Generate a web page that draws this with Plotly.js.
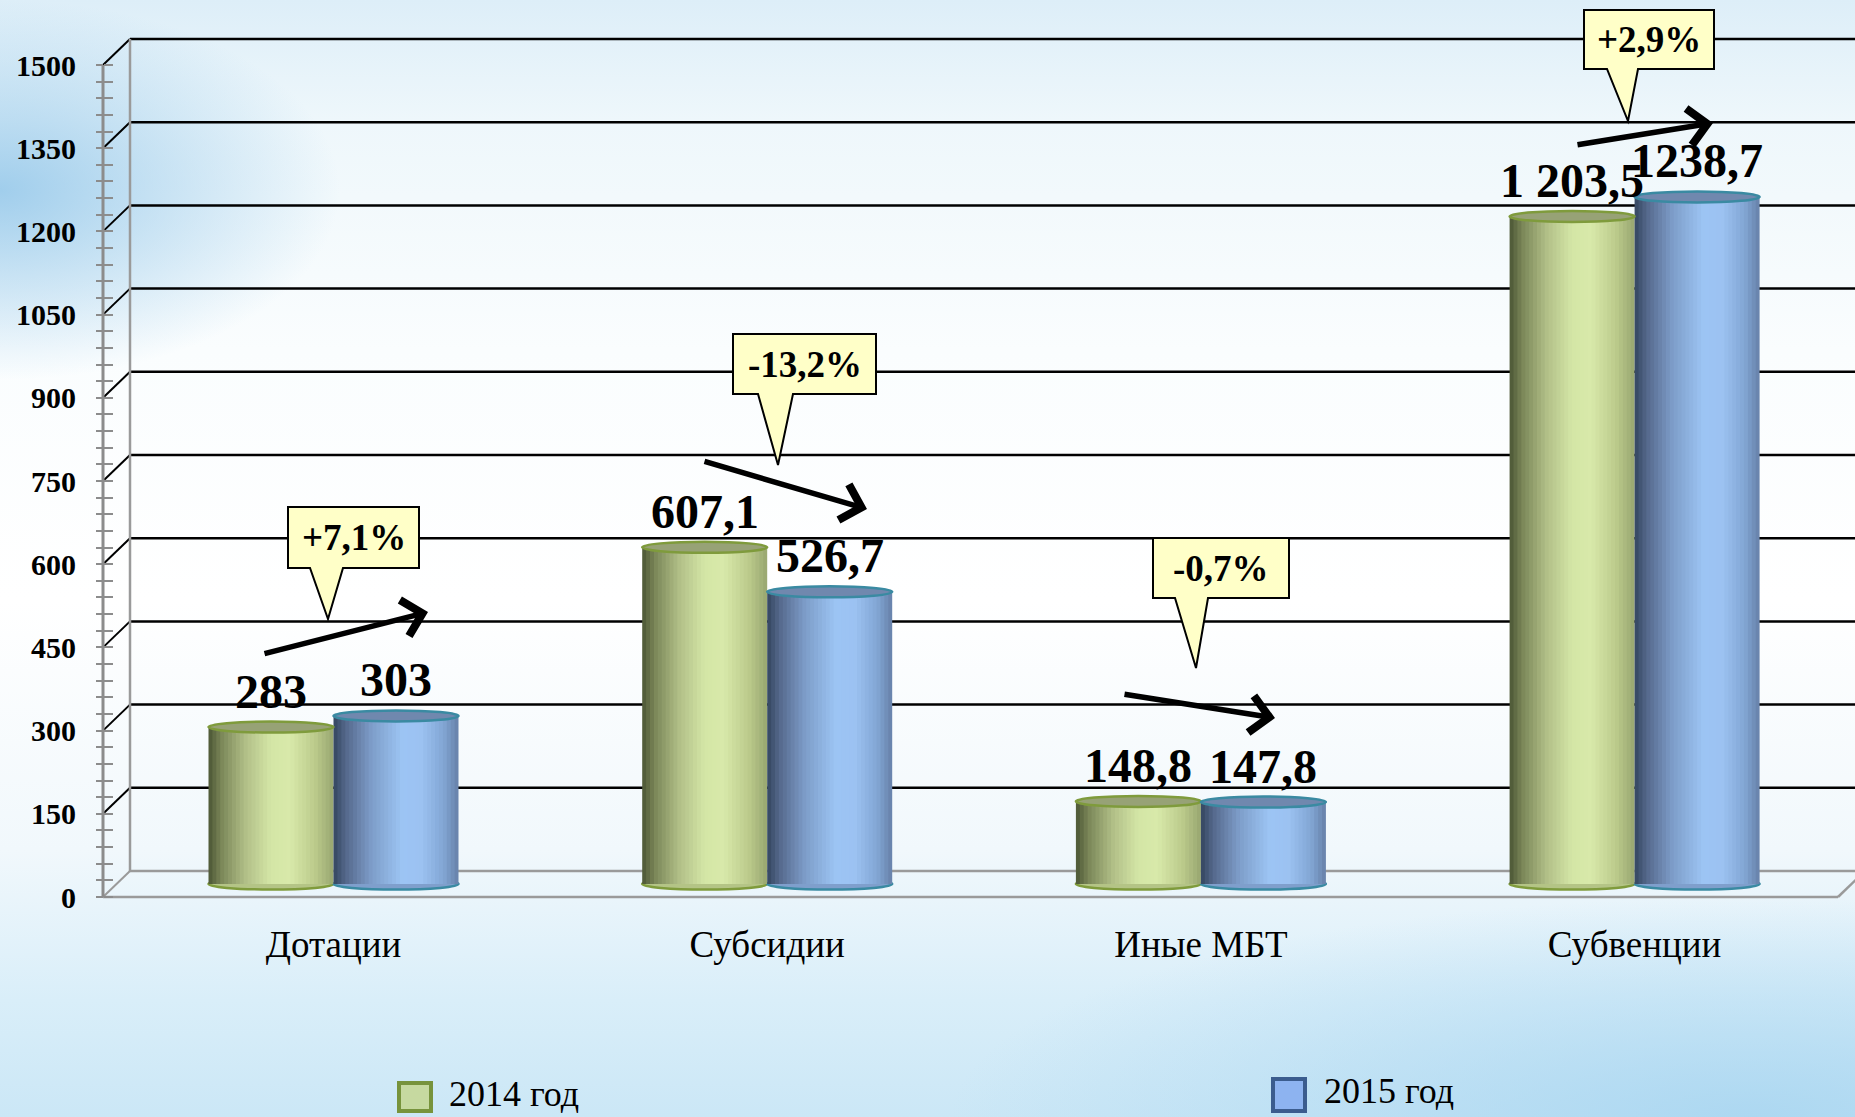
<!DOCTYPE html>
<html><head><meta charset="utf-8">
<script src="https://cdn.plot.ly/plotly-3.0.1.min.js"></script>
<style>
html,body{margin:0;padding:0;width:1855px;height:1117px;overflow:hidden;}
body{background:
 radial-gradient(ellipse 340px 190px at 0px 190px, rgba(140,195,232,0.8), rgba(140,195,232,0) 100%),
 radial-gradient(ellipse 800px 220px at 1750px 1117px, rgba(165,212,240,0.8), rgba(165,212,240,0) 100%),
 linear-gradient(to bottom, #ddeef8 0px, #eef7fb 120px, #fafdfe 350px, #ffffff 600px, #f1f8fc 850px, #d9eef9 1000px, #cbe7f6 1117px);}
#chart{width:1855px;height:1117px;}
</style></head><body><div id="chart"></div>
<script>
// ---- data ----
const categories = ['Дотации', 'Субсидии', 'Иные МБТ', 'Субвенции'];
const seriesNames = ['2014 год', '2015 год'];
const values2014 = [283, 607.1, 148.8, 1203.5];
const values2015 = [303, 526.7, 147.8, 1238.7];
const labels2014 = ['283', '607,1', '148,8', '1 203,5'];
const labels2015 = ['303', '526,7', '147,8', '1238,7'];
const changes = ['+7,1%', '-13,2%', '-0,7%', '+2,9%'];
const yTicks = [0, 150, 300, 450, 600, 750, 900, 1050, 1200, 1350, 1500];
const yMinorStep = 30;

// ---- layout geometry (pixels) ----
const W = 1855, H = 1117;
const Y0PX = 897, YTOPPX = 65;
const yTop = yTicks[yTicks.length - 1];
const K = (Y0PX - YTOPPX) / yTop;
const yMin = -(H - Y0PX) / K, yMax = Y0PX / K;
const S = 433.7, C0PX = 333.5;
const xMin = -C0PX / S, xMax = xMin + W / S;
const X = px => xMin + px / S;
const Y = py => (Y0PX - py) / K;
const DEPTH = 26 / K;
const BASE = 13 / K;
const AXPX = 103, WALLPX = 130;
const BW = 125 / S;
const EH = 5.5 / K;

const minorTicks = [];
for (let v = yMinorStep; v < yTop; v += yMinorStep) if (v % 150 !== 0) minorTicks.push(v);

function hex2rgb(h) { return [1, 3, 5].map(i => parseInt(h.substr(i, 2), 16)); }
function grad(stops, t) {
  for (let i = 0; i < stops.length - 1; i++) {
    const [t0, c0] = stops[i], [t1, c1] = stops[i + 1];
    if (t >= t0 && t <= t1) {
      const f = (t - t0) / (t1 - t0), a = hex2rgb(c0), b = hex2rgb(c1);
      return 'rgb(' + a.map((v, k) => Math.round(v + (b[k] - v) * f)).join(',') + ')';
    }
  }
  return stops[stops.length - 1][1];
}
const greenStops = [[0, '#4a5535'], [0.1, '#7a8658'], [0.3, '#b2c088'], [0.5, '#d4e6a6'], [0.65, '#d8e9aa'], [0.85, '#bccb8c'], [1, '#98a670']];
const blueStops = [[0, '#34465f'], [0.1, '#55698c'], [0.3, '#7d9cc8'], [0.55, '#9cc4f4'], [0.7, '#9cc2f2'], [0.88, '#82a6d4'], [1, '#6680a8']];

const series = [
  {vals: values2014, labels: labels2014, name: seriesNames[0], stops: greenStops, start: -BW, cap: '#97a276', edge: '#7f9b3c', bottom: '#b4c486', legFill: '#c6d9a0', legEdge: '#77933c'},
  {vals: values2015, labels: labels2015, name: seriesNames[1], stops: blueStops, start: 0, cap: '#7088ae', edge: '#3a8aa2', bottom: '#7f9fcc', legFill: '#8db3f0', legEdge: '#3b5c8e'}
];

const N = 32;
const traces = [];
series.forEach(s => {
  for (let j = 0; j < N; j++) {
    const t = (j + 0.5) / N;
    const sw = BW / N;
    traces.push({type: 'bar', x: categories, y: s.vals, base: BASE,
      offset: s.start + j * sw, width: j === N - 1 ? sw : sw * 1.8,
      marker: {color: grad(s.stops, t), line: {width: 0}},
      name: s.name, showlegend: false, hoverinfo: 'skip', cliponaxis: false});
  }
});
traces.push({type: 'scatter', x: [categories[0]], y: [0], yaxis: 'y2', mode: 'none', showlegend: false, hoverinfo: 'skip'});

const shapes = [];
const annotations = [];
const line = (x0, y0, x1, y1, color, width, layer) => ({type: 'line', xref: 'x', yref: 'y', x0, y0, x1, y1, line: {color, width}, layer: layer || 'below'});

yTicks.forEach(v => {
  const c = v === 0 ? '#9a9a9a' : '#000000';
  shapes.push(line(X(WALLPX), v + DEPTH, xMax, v + DEPTH, c, 2.5));
  shapes.push(line(X(AXPX), v, X(WALLPX), v + DEPTH, c, 2));
});
shapes.push(line(X(WALLPX), DEPTH, X(WALLPX), yTop + DEPTH, '#9a9a9a', 2.5));
shapes.push(line(X(AXPX), 0, X(1838), 0, '#9a9a9a', 2.5));
shapes.push(line(X(1838), 0, X(1838 + 27), DEPTH, '#9a9a9a', 2.5));
shapes.push(line(X(AXPX), 0, X(AXPX), yTop, '#8c8c8c', 3));

series.forEach(s => s.vals.forEach((v, i) => {
  const x0 = i + s.start, x1 = x0 + BW;
  shapes.push({type: 'circle', xref: 'x', yref: 'y', x0, x1, y0: BASE - EH, y1: BASE + EH, fillcolor: s.bottom, line: {color: s.edge, width: 2.5}, layer: 'below'});
  shapes.push({type: 'circle', xref: 'x', yref: 'y', x0, x1, y0: BASE + v - EH, y1: BASE + v + EH, fillcolor: s.cap, line: {color: s.edge, width: 2.5}, layer: 'above'});
  annotations.push({x: x0 + BW / 2, y: BASE + v, xref: 'x', yref: 'y', yanchor: 'middle', yshift: 36,
    text: s.labels[i], showarrow: false, font: {family: 'Liberation Serif', size: 48, weight: 'bold', color: '#000'}});
}));

// callouts (box, pointer base, tip) in px
const callouts = [
  {box: [288, 507, 419, 568], base: [310, 343], tip: [328, 619]},
  {box: [733, 334, 876, 394], base: [758, 793], tip: [778, 465]},
  {box: [1153, 538, 1289, 598], base: [1175, 1208], tip: [1196, 668]},
  {box: [1584, 10, 1714, 69], base: [1607, 1638], tip: [1628, 121]}
];
callouts.forEach((c, i) => {
  const [x0, y0, x1, y1] = c.box;
  const pts = [[x0, y0], [x1, y0], [x1, y1], [c.base[1], y1], c.tip, [c.base[0], y1], [x0, y1]];
  const path = 'M' + pts.map(p => X(p[0]) + ',' + Y(p[1])).join('L') + 'Z';
  shapes.push({type: 'path', xref: 'x', yref: 'y', path, fillcolor: '#ffffc8', line: {color: '#000', width: 2}, layer: 'above'});
  annotations.push({x: X((x0 + x1) / 2), y: Y((y0 + y1) / 2), xref: 'x', yref: 'y', text: changes[i], showarrow: false,
    font: {family: 'Liberation Serif', size: 37, color: '#000', weight: 'bold'}});
});

// trend arrows: tail x,y -> head x,y (px)
const arrows = [[263, 654, 428, 612], [703, 461, 867, 509], [1123, 694, 1275, 718], [1576, 145, 1713, 123]];
arrows.forEach(a => annotations.push({x: X(a[2]), y: Y(a[3]), ax: X(a[0]), ay: Y(a[1]), xref: 'x', yref: 'y', axref: 'x', ayref: 'y',
  showarrow: true, arrowhead: 4, arrowsize: 1.3, arrowwidth: 5.5, arrowcolor: '#000', text: '', standoff: 0, startstandoff: 0}));

// legend
const legendGeom = [{sq: [399, 1083, 431, 1111], tx: 447, ty: 1094}, {sq: [1273, 1079, 1305, 1111], tx: 1322, ty: 1091}];
series.forEach((s, i) => {
  const g = legendGeom[i];
  shapes.push({type: 'rect', xref: 'x', yref: 'y', x0: X(g.sq[0]), x1: X(g.sq[2]), y0: Y(g.sq[3]), y1: Y(g.sq[1]), fillcolor: s.legFill, line: {color: s.legEdge, width: 4}, layer: 'above'});
  annotations.push({x: X(g.tx), y: Y(g.ty), xref: 'x', yref: 'y', xanchor: 'left', text: s.name, showarrow: false,
    font: {family: 'Liberation Serif', size: 36, color: '#000'}});
});

const tickColor = '#8c8c8c';
const layout = {
  width: W, height: H, margin: {l: 0, r: 0, t: 0, b: 0, pad: 0},
  paper_bgcolor: 'rgba(0,0,0,0)', plot_bgcolor: 'rgba(0,0,0,0)',
  showlegend: false, barmode: 'overlay', hovermode: false,
  xaxis: {type: 'category', domain: [0, 1], range: [xMin, xMax], anchor: 'free', position: 1 - Y0PX / H,
    showgrid: false, zeroline: false, showline: false, ticks: '', ticklabelstandoff: 22,
    tickfont: {family: 'Liberation Serif', size: 37, color: '#000'}, fixedrange: true},
  yaxis: {domain: [0, 1], range: [yMin, yMax], anchor: 'free', position: AXPX / W, side: 'left',
    tickmode: 'array', tickvals: yTicks, ticks: 'outside', ticklen: 7, tickwidth: 2, tickcolor: tickColor,
    minor: {tickmode: 'array', tickvals: minorTicks, ticks: 'outside', ticklen: 7, tickwidth: 2, tickcolor: tickColor, showgrid: false},
    showgrid: false, zeroline: false, showline: false, ticklabelstandoff: 14,
    tickfont: {family: 'Liberation Serif', size: 30, color: '#000', weight: 'bold'}, fixedrange: true},
  yaxis2: {overlaying: 'y', range: [yMin, yMax], anchor: 'free', position: AXPX / W, side: 'left',
    tickmode: 'array', tickvals: yTicks, ticks: 'inside', ticklen: 9, tickwidth: 2, tickcolor: tickColor,
    minor: {tickmode: 'array', tickvals: minorTicks, ticks: 'inside', ticklen: 9, tickwidth: 2, tickcolor: tickColor, showgrid: false},
    showticklabels: false, showgrid: false, zeroline: false, showline: false, fixedrange: true},
  shapes, annotations
};
Plotly.newPlot('chart', traces, layout, {staticPlot: true, displayModeBar: false});
</script></body></html>
